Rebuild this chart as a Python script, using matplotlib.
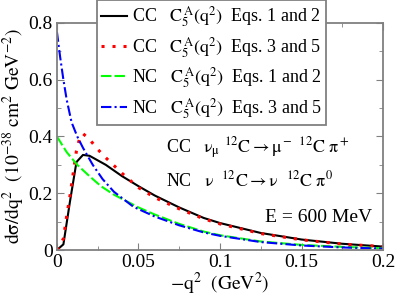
import numpy as np
import matplotlib
matplotlib.use("Agg")
import matplotlib.pyplot as plt

plt.rcParams['font.family'] = ['Liberation Serif', 'DejaVu Serif']
plt.rcParams['mathtext.fontset'] = 'stix'

# CC, C5A from Eqs. 1 and 2 (solid black)
cc12_q2 = [0, 0.004, 0.008, 0.012, 0.016, 0.02, 0.03, 0.04, 0.05, 0.06, 0.075,
           0.09, 0.1, 0.125, 0.15, 0.175, 0.2]
cc12_xs = [0, 0.02, 0.17, 0.31, 0.335, 0.332, 0.3, 0.26, 0.225, 0.192, 0.15,
           0.113, 0.095, 0.06, 0.037, 0.022, 0.012]

# CC, C5A from Eqs. 3 and 5 (red dots)
cc35_q2 = [0, 0.004, 0.006, 0.008, 0.010, 0.012, 0.014, 0.016, 0.02, 0.025,
           0.03, 0.04, 0.05, 0.06, 0.075, 0.09, 0.1, 0.125, 0.15, 0.175, 0.2]
cc35_xs = [0, 0.04, 0.12, 0.19, 0.27, 0.35, 0.395, 0.41, 0.39, 0.355,
           0.325, 0.27, 0.22, 0.185, 0.145, 0.11, 0.092, 0.058, 0.036, 0.021, 0.012]

# NC, C5A from Eqs. 1 and 2 (green dashes)
nc12_q2 = [0, 0.006, 0.0125, 0.02, 0.027, 0.035, 0.05, 0.06, 0.075, 0.09, 0.1,
           0.125, 0.15, 0.175, 0.2]
nc12_xs = [0.4, 0.345, 0.3, 0.26, 0.225, 0.195, 0.15, 0.125, 0.092, 0.065, 0.052,
           0.03, 0.018, 0.011, 0.006]

# NC, C5A from Eqs. 3 and 5 (blue dash-dot)
nc35_q2 = [0, 0.002, 0.004, 0.006, 0.009, 0.0125, 0.016, 0.022, 0.028, 0.035,
           0.047, 0.06, 0.075, 0.09, 0.1, 0.125, 0.15, 0.175, 0.2]
nc35_xs = [0.77, 0.68, 0.6, 0.53, 0.45, 0.4, 0.36, 0.3, 0.25, 0.205,
           0.152, 0.118, 0.087, 0.062, 0.05, 0.028, 0.016, 0.009, 0.005]

legend_labels = [
    r"CC   $\mathrm{C_5^{\,A}(q^2)}$  Eqs. 1 and 2",
    r"CC   $\mathrm{C_5^{\,A}(q^2)}$  Eqs. 3 and 5",
    r"NC   $\mathrm{C_5^{\,A}(q^2)}$  Eqs. 1 and 2",
    r"NC   $\mathrm{C_5^{\,A}(q^2)}$  Eqs. 3 and 5",
]

fig = plt.figure(figsize=(3.95, 2.98), dpi=100)
ax = fig.add_axes([0.144, 0.161, 0.826, 0.762])

ax.plot(cc12_q2, cc12_xs, color='black', lw=1.5, label=legend_labels[0])
ax.plot(cc35_q2, cc35_xs, color='red', lw=2.2, dashes=(1, 2.6),
        label=legend_labels[1])
ax.plot(nc12_q2, nc12_xs, color='#00ff00', lw=1.5, dashes=(5, 1.5),
        label=legend_labels[2])
ax.plot(nc35_q2, nc35_xs, color='blue', lw=1.5, dashes=(5, 1.5, 1, 1.5),
        label=legend_labels[3])

ax.set_xlim(0, 0.2)
ax.set_ylim(0, 0.8)
ax.set_xticks([0, 0.05, 0.1, 0.15, 0.2])
ax.set_xticklabels(['0', '0.05', '0.1', '0.15', '0.2'])
ax.set_xticks(np.arange(0, 0.201, 0.025), minor=True)
ax.set_yticks([0, 0.2, 0.4, 0.6, 0.8])
ax.set_yticklabels(['0', '0.2', '0.4', '0.6', '0.8'])
ax.set_yticks(np.arange(0, 0.81, 0.1), minor=True)

for sp in ax.spines.values():
    sp.set_color('#808080')
    sp.set_linewidth(1.3)
ax.tick_params(which='both', direction='in', top=True, right=True,
               color='#808080', labelsize=14, pad=3)
ax.tick_params(which='major', length=5)
ax.tick_params(which='minor', length=3)

ax.set_xlabel(r"$\mathrm{-q^2\ \ (GeV^2)}$", fontsize=14, labelpad=0)
ax.set_ylabel(r"$\mathrm{d\sigma/dq^2\ \ (10^{-38}\ cm^2\ GeV^{-2})}$",
              fontsize=14, labelpad=1)

ax.text(0.067, 0.36, r"CC   $\mathrm{\nu_\mu\ ^{12}C \rightarrow \mu^-\ ^{12}C\ \pi^+}$",
        fontsize=13, va='center')
ax.text(0.067, 0.245, r"NC   $\mathrm{\nu\ \ ^{12}C \rightarrow \nu\ \ ^{12}C\ \pi^0}$",
        fontsize=13, va='center')
ax.text(0.193, 0.113, "E = 600 MeV", fontsize=14, ha='right', va='center')

leg = ax.legend(loc='upper left', bbox_to_anchor=(0.245, 1.0),
                bbox_transform=fig.transFigure, borderaxespad=0,
                fontsize=13, handlelength=1.4, handletextpad=0.3,
                labelspacing=0.3, borderpad=0.25, fancybox=False,
                framealpha=1)
leg.get_frame().set_edgecolor('#808080')
leg.get_frame().set_linewidth(1.3)

fig.savefig('out.png', dpi=100)
